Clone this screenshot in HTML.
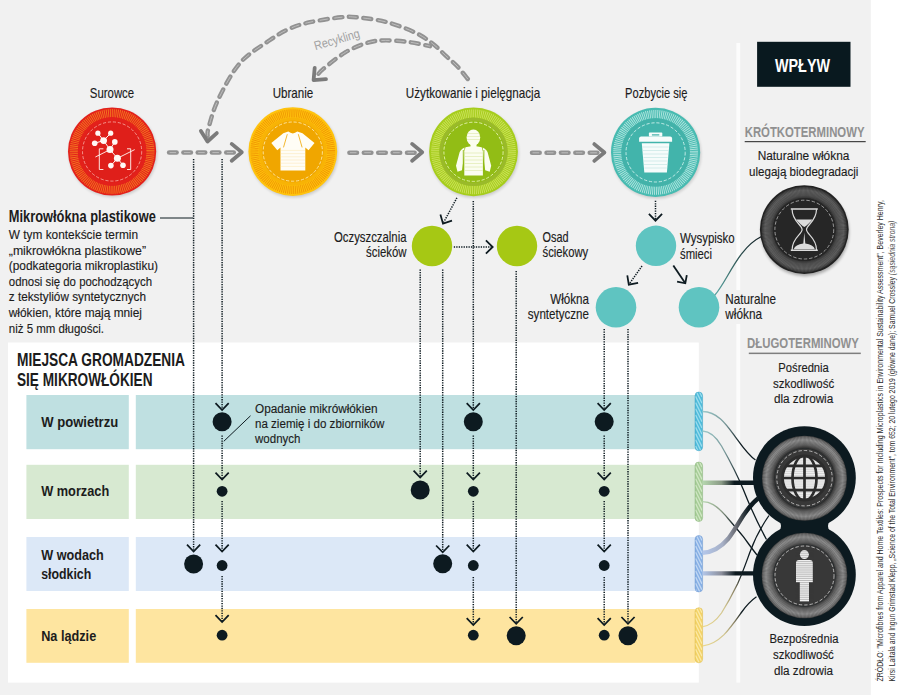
<!DOCTYPE html>
<html><head><meta charset="utf-8"><title>Mikrowłókna</title>
<style>
html,body{margin:0;padding:0;background:#f0f0f0;}
body{width:900px;height:695px;overflow:hidden;font-family:"Liberation Sans",sans-serif;}
svg{display:block;}
svg text{font-family:"Liberation Sans",sans-serif;}
</style></head><body>
<svg width="900" height="695" viewBox="0 0 900 695">
<defs>
<filter id="blur2" x="-20%" y="-20%" width="140%" height="140%"><feGaussianBlur stdDeviation="1.8"/></filter>
</defs>
<rect x="0" y="0" width="900" height="695" fill="#f1f1f1"/>
<rect x="870.8" y="0" width="29.2" height="695" fill="#ffffff"/>
<rect x="8" y="342.5" width="690.8" height="340.1" fill="#ffffff"/>
<rect x="736.4" y="43" width="3.8" height="247" fill="#fcfcfc"/>
<rect x="736.4" y="324" width="3.8" height="358.6" fill="#fcfcfc"/>
<rect x="26.4" y="395" width="102.4" height="54.2" fill="#bfe0e1"/>
<rect x="135.8" y="395" width="559.5" height="54.2" fill="#bfe0e1"/>
<rect x="26.4" y="464.8" width="102.4" height="54.2" fill="#d7e9d1"/>
<rect x="135.8" y="464.8" width="559.5" height="54.2" fill="#d7e9d1"/>
<rect x="26.4" y="537" width="102.4" height="54.0" fill="#dce8f7"/>
<rect x="135.8" y="537" width="559.5" height="54.0" fill="#dce8f7"/>
<rect x="26.4" y="609" width="102.4" height="53.8" fill="#fee5a0"/>
<rect x="135.8" y="609" width="559.5" height="53.8" fill="#fee5a0"/>
<text x="41.2" y="426.8" font-size="14.6" font-weight="bold" fill="#1c1c1c" text-anchor="start" textLength="77" lengthAdjust="spacingAndGlyphs" >W powietrzu</text>
<text x="41.2" y="496.3" font-size="14.6" font-weight="bold" fill="#1c1c1c" text-anchor="start" textLength="68" lengthAdjust="spacingAndGlyphs" >W morzach</text>
<text x="41.2" y="559.8" font-size="14.6" font-weight="bold" fill="#1c1c1c" text-anchor="start" textLength="62.5" lengthAdjust="spacingAndGlyphs" >W wodach</text>
<text x="41.2" y="579" font-size="14.6" font-weight="bold" fill="#1c1c1c" text-anchor="start" textLength="50" lengthAdjust="spacingAndGlyphs" >słodkich</text>
<text x="41.2" y="640.8" font-size="14.6" font-weight="bold" fill="#1c1c1c" text-anchor="start" textLength="55" lengthAdjust="spacingAndGlyphs" >Na lądzie</text>
<text x="17" y="366.1" font-size="17.6" font-weight="bold" fill="#1c1c1c" text-anchor="start" textLength="168" lengthAdjust="spacingAndGlyphs" >MIEJSCA GROMADZENIA</text>
<text x="17" y="386.3" font-size="17.6" font-weight="bold" fill="#1c1c1c" text-anchor="start" textLength="135.5" lengthAdjust="spacingAndGlyphs" >SIĘ MIKROWŁÓKIEN</text>
<text x="8.8" y="222.3" font-size="15.6" font-weight="bold" fill="#1c1c1c" text-anchor="start" textLength="147" lengthAdjust="spacingAndGlyphs" >Mikrowłókna plastikowe</text>
<line x1="160" y1="218" x2="193" y2="218" stroke="#0d1a20" stroke-width="1"/>
<text x="8.8" y="239.2" font-size="13.7" font-weight="normal" fill="#1c1c1c" text-anchor="start" textLength="129.2" lengthAdjust="spacingAndGlyphs"  stroke="#1c1c1c" stroke-width="0.15">W tym kontekście termin</text>
<text x="8.8" y="254.8" font-size="13.7" font-weight="normal" fill="#1c1c1c" text-anchor="start" textLength="137.2" lengthAdjust="spacingAndGlyphs"  stroke="#1c1c1c" stroke-width="0.15">„mikrowłókna plastikowe”</text>
<text x="8.8" y="270.3" font-size="13.7" font-weight="normal" fill="#1c1c1c" text-anchor="start" textLength="149.2" lengthAdjust="spacingAndGlyphs"  stroke="#1c1c1c" stroke-width="0.15">(podkategoria mikroplastiku)</text>
<text x="8.8" y="285.9" font-size="13.7" font-weight="normal" fill="#1c1c1c" text-anchor="start" textLength="143.2" lengthAdjust="spacingAndGlyphs"  stroke="#1c1c1c" stroke-width="0.15">odnosi się do pochodzących</text>
<text x="8.8" y="301.4" font-size="13.7" font-weight="normal" fill="#1c1c1c" text-anchor="start" textLength="137.2" lengthAdjust="spacingAndGlyphs"  stroke="#1c1c1c" stroke-width="0.15">z tekstyliów syntetycznych</text>
<text x="8.8" y="316.9" font-size="13.7" font-weight="normal" fill="#1c1c1c" text-anchor="start" textLength="133.2" lengthAdjust="spacingAndGlyphs"  stroke="#1c1c1c" stroke-width="0.15">włókien, które mają mniej</text>
<text x="8.8" y="332.5" font-size="13.7" font-weight="normal" fill="#1c1c1c" text-anchor="start" textLength="95.2" lengthAdjust="spacingAndGlyphs"  stroke="#1c1c1c" stroke-width="0.15">niż 5 mm długości.</text>
<line x1="193.6" y1="159" x2="193.6" y2="551.0" stroke="#0d1a20" stroke-width="1.5" stroke-dasharray="1.3 1.15"/>
<polyline points="200.2,544.7 193.6,551.5 187.0,544.7" fill="none" stroke="#0d1a20" stroke-width="1.75"/>
<circle cx="193.6" cy="564" r="9.5" fill="#0d1a20"/>
<line x1="222.1" y1="159" x2="222.1" y2="409.5" stroke="#0d1a20" stroke-width="1.5" stroke-dasharray="1.3 1.15"/>
<polyline points="228.7,403.2 222.1,410.0 215.5,403.2" fill="none" stroke="#0d1a20" stroke-width="1.75"/>
<circle cx="222.1" cy="421.8" r="9.5" fill="#0d1a20"/>
<line x1="222.1" y1="435.5" x2="222.1" y2="479.0" stroke="#0d1a20" stroke-width="1.5" stroke-dasharray="1.3 1.15"/>
<polyline points="228.7,472.7 222.1,479.5 215.5,472.7" fill="none" stroke="#0d1a20" stroke-width="1.75"/>
<circle cx="222.1" cy="491.3" r="5.4" fill="#0d1a20"/>
<line x1="222.1" y1="501" x2="222.1" y2="551.0" stroke="#0d1a20" stroke-width="1.5" stroke-dasharray="1.3 1.15"/>
<polyline points="228.7,544.7 222.1,551.5 215.5,544.7" fill="none" stroke="#0d1a20" stroke-width="1.75"/>
<circle cx="222.1" cy="565.5" r="5.4" fill="#0d1a20"/>
<line x1="222.1" y1="576" x2="222.1" y2="621.5" stroke="#0d1a20" stroke-width="1.5" stroke-dasharray="1.3 1.15"/>
<polyline points="228.7,615.2 222.1,622.0 215.5,615.2" fill="none" stroke="#0d1a20" stroke-width="1.75"/>
<circle cx="222.1" cy="635.2" r="5.4" fill="#0d1a20"/>
<line x1="420.2" y1="269.5" x2="420.2" y2="477.0" stroke="#0d1a20" stroke-width="1.5" stroke-dasharray="1.3 1.15"/>
<polyline points="426.8,470.7 420.2,477.5 413.6,470.7" fill="none" stroke="#0d1a20" stroke-width="1.75"/>
<circle cx="420.2" cy="490" r="9.5" fill="#0d1a20"/>
<line x1="442.7" y1="269.5" x2="442.7" y2="551.8" stroke="#0d1a20" stroke-width="1.5" stroke-dasharray="1.3 1.15"/>
<polyline points="449.3,545.5 442.7,552.3 436.1,545.5" fill="none" stroke="#0d1a20" stroke-width="1.75"/>
<circle cx="442.7" cy="563.8" r="9.5" fill="#0d1a20"/>
<line x1="473.3" y1="201" x2="473.3" y2="409.5" stroke="#0d1a20" stroke-width="1.5" stroke-dasharray="1.3 1.15"/>
<polyline points="479.9,403.2 473.3,410.0 466.7,403.2" fill="none" stroke="#0d1a20" stroke-width="1.75"/>
<circle cx="473.3" cy="421.8" r="9.5" fill="#0d1a20"/>
<line x1="473.3" y1="435.5" x2="473.3" y2="479.0" stroke="#0d1a20" stroke-width="1.5" stroke-dasharray="1.3 1.15"/>
<polyline points="479.9,472.7 473.3,479.5 466.7,472.7" fill="none" stroke="#0d1a20" stroke-width="1.75"/>
<circle cx="473.3" cy="491.3" r="5.4" fill="#0d1a20"/>
<line x1="473.3" y1="501" x2="473.3" y2="551.0" stroke="#0d1a20" stroke-width="1.5" stroke-dasharray="1.3 1.15"/>
<polyline points="479.9,544.7 473.3,551.5 466.7,544.7" fill="none" stroke="#0d1a20" stroke-width="1.75"/>
<circle cx="473.3" cy="565.5" r="5.4" fill="#0d1a20"/>
<line x1="473.3" y1="577" x2="473.3" y2="624.5" stroke="#0d1a20" stroke-width="1.5" stroke-dasharray="1.3 1.15"/>
<polyline points="479.9,618.2 473.3,625.0 466.7,618.2" fill="none" stroke="#0d1a20" stroke-width="1.75"/>
<circle cx="473.3" cy="635.2" r="5.4" fill="#0d1a20"/>
<line x1="516.2" y1="271" x2="516.2" y2="623.3" stroke="#0d1a20" stroke-width="1.5" stroke-dasharray="1.3 1.15"/>
<polyline points="522.8,617.0 516.2,623.8 509.6,617.0" fill="none" stroke="#0d1a20" stroke-width="1.75"/>
<circle cx="516.2" cy="635.8" r="9.5" fill="#0d1a20"/>
<line x1="604.2" y1="329" x2="604.2" y2="409.5" stroke="#0d1a20" stroke-width="1.5" stroke-dasharray="1.3 1.15"/>
<polyline points="610.8,403.2 604.2,410.0 597.6,403.2" fill="none" stroke="#0d1a20" stroke-width="1.75"/>
<circle cx="604.2" cy="421.8" r="9.5" fill="#0d1a20"/>
<line x1="604.2" y1="435.5" x2="604.2" y2="479.0" stroke="#0d1a20" stroke-width="1.5" stroke-dasharray="1.3 1.15"/>
<polyline points="610.8,472.7 604.2,479.5 597.6,472.7" fill="none" stroke="#0d1a20" stroke-width="1.75"/>
<circle cx="604.2" cy="491.3" r="5.4" fill="#0d1a20"/>
<line x1="604.2" y1="501" x2="604.2" y2="551.0" stroke="#0d1a20" stroke-width="1.5" stroke-dasharray="1.3 1.15"/>
<polyline points="610.8,544.7 604.2,551.5 597.6,544.7" fill="none" stroke="#0d1a20" stroke-width="1.75"/>
<circle cx="604.2" cy="565.5" r="5.4" fill="#0d1a20"/>
<line x1="604.2" y1="577" x2="604.2" y2="624.5" stroke="#0d1a20" stroke-width="1.5" stroke-dasharray="1.3 1.15"/>
<polyline points="610.8,618.2 604.2,625.0 597.6,618.2" fill="none" stroke="#0d1a20" stroke-width="1.75"/>
<circle cx="604.2" cy="635.2" r="5.4" fill="#0d1a20"/>
<line x1="628" y1="329" x2="628" y2="623.3" stroke="#0d1a20" stroke-width="1.5" stroke-dasharray="1.3 1.15"/>
<polyline points="634.6,617.0 628.0,623.8 621.4,617.0" fill="none" stroke="#0d1a20" stroke-width="1.75"/>
<circle cx="628" cy="635.8" r="9.5" fill="#0d1a20"/>
<line x1="223.8" y1="441.3" x2="250.5" y2="415.8" stroke="#0d1a20" stroke-width="1"/>
<text x="255" y="412.5" font-size="13.7" font-weight="normal" fill="#1c1c1c" text-anchor="start" textLength="122.5" lengthAdjust="spacingAndGlyphs"  stroke="#1c1c1c" stroke-width="0.15">Opadanie mikrówłókien</text>
<text x="255" y="427.8" font-size="13.7" font-weight="normal" fill="#1c1c1c" text-anchor="start" textLength="129.3" lengthAdjust="spacingAndGlyphs"  stroke="#1c1c1c" stroke-width="0.15">na ziemię i do zbiorników</text>
<text x="255" y="443.3" font-size="13.7" font-weight="normal" fill="#1c1c1c" text-anchor="start" textLength="45.5" lengthAdjust="spacingAndGlyphs"  stroke="#1c1c1c" stroke-width="0.15">wodnych</text>
<circle cx="432" cy="246" r="20.2" fill="#a6c814"/>
<circle cx="517" cy="246" r="20.2" fill="#a6c814"/>
<circle cx="656" cy="245.8" r="20.2" fill="#5fc4c1"/>
<circle cx="616" cy="307.3" r="20.3" fill="#5fc4c1"/>
<circle cx="699" cy="307.3" r="20.3" fill="#5fc4c1"/>
<line x1="456.9" y1="197.8" x2="443.6" y2="222.5" stroke="#0d1a20" stroke-width="1.5" stroke-dasharray="1.3 1.15"/>
<polyline points="452.0,220.7 443.0,223.6 440.4,214.5" fill="none" stroke="#0d1a20" stroke-width="1.75"/>
<line x1="453.8" y1="247" x2="492" y2="247" stroke="#0d1a20" stroke-width="1.5" stroke-dasharray="1.3 1.15"/>
<polyline points="485.9,240.4 492.7,247.0 485.9,253.6" fill="none" stroke="#0d1a20" stroke-width="1.75"/>
<line x1="655.5" y1="200.7" x2="655.5" y2="220" stroke="#0d1a20" stroke-width="1.5" stroke-dasharray="1.3 1.15"/>
<polyline points="662.1,213.9 655.5,220.7 648.9,213.9" fill="none" stroke="#0d1a20" stroke-width="1.75"/>
<line x1="642" y1="266" x2="629.4" y2="283.8" stroke="#0d1a20" stroke-width="1.5" stroke-dasharray="1.3 1.15"/>
<polyline points="638.1,282.9 628.8,284.7 627.3,275.4" fill="none" stroke="#0d1a20" stroke-width="1.75"/>
<line x1="673.3" y1="265.5" x2="684.8" y2="282.5" stroke="#0d1a20" stroke-width="1.8"/>
<polyline points="686.8,275.1 685.3,283.3 677.1,281.6" fill="none" stroke="#0d1a20" stroke-width="1.8"/>
<text x="406.5" y="242.3" font-size="14.2" font-weight="normal" fill="#1c1c1c" text-anchor="end" textLength="72.5" lengthAdjust="spacingAndGlyphs"  stroke="#1c1c1c" stroke-width="0.15">Oczyszczalnia</text>
<text x="406.5" y="256.9" font-size="14.2" font-weight="normal" fill="#1c1c1c" text-anchor="end" textLength="40.5" lengthAdjust="spacingAndGlyphs"  stroke="#1c1c1c" stroke-width="0.15">ścieków</text>
<text x="542.5" y="242.3" font-size="14.2" font-weight="normal" fill="#1c1c1c" text-anchor="start" textLength="26" lengthAdjust="spacingAndGlyphs"  stroke="#1c1c1c" stroke-width="0.15">Osad</text>
<text x="542.5" y="256.9" font-size="14.2" font-weight="normal" fill="#1c1c1c" text-anchor="start" textLength="45.7" lengthAdjust="spacingAndGlyphs"  stroke="#1c1c1c" stroke-width="0.15">ściekowy</text>
<text x="680" y="243.3" font-size="14.2" font-weight="normal" fill="#1c1c1c" text-anchor="start" textLength="54.7" lengthAdjust="spacingAndGlyphs"  stroke="#1c1c1c" stroke-width="0.15">Wysypisko</text>
<text x="680" y="258.8" font-size="14.2" font-weight="normal" fill="#1c1c1c" text-anchor="start" textLength="32" lengthAdjust="spacingAndGlyphs"  stroke="#1c1c1c" stroke-width="0.15">śmieci</text>
<text x="589" y="303.8" font-size="14.2" font-weight="normal" fill="#1c1c1c" text-anchor="end" textLength="38.8" lengthAdjust="spacingAndGlyphs"  stroke="#1c1c1c" stroke-width="0.15">Włókna</text>
<text x="589" y="319.2" font-size="14.2" font-weight="normal" fill="#1c1c1c" text-anchor="end" textLength="61.2" lengthAdjust="spacingAndGlyphs"  stroke="#1c1c1c" stroke-width="0.15">syntetyczne</text>
<text x="725.3" y="303.8" font-size="14.2" font-weight="normal" fill="#1c1c1c" text-anchor="start" textLength="50.7" lengthAdjust="spacingAndGlyphs"  stroke="#1c1c1c" stroke-width="0.15">Naturalne</text>
<text x="725.3" y="319.2" font-size="14.2" font-weight="normal" fill="#1c1c1c" text-anchor="start" textLength="36.8" lengthAdjust="spacingAndGlyphs"  stroke="#1c1c1c" stroke-width="0.15">włókna</text>
<text x="112" y="97.7" font-size="14.2" font-weight="normal" fill="#1c1c1c" text-anchor="middle" textLength="44.3" lengthAdjust="spacingAndGlyphs"  stroke="#1c1c1c" stroke-width="0.15">Surowce</text>
<text x="293" y="97.7" font-size="14.2" font-weight="normal" fill="#1c1c1c" text-anchor="middle" textLength="40.6" lengthAdjust="spacingAndGlyphs"  stroke="#1c1c1c" stroke-width="0.15">Ubranie</text>
<text x="473" y="97.5" font-size="14.2" font-weight="normal" fill="#1c1c1c" text-anchor="middle" textLength="134.3" lengthAdjust="spacingAndGlyphs"  stroke="#1c1c1c" stroke-width="0.15">Użytkowanie i pielęgnacja</text>
<text x="656.3" y="97.6" font-size="14.2" font-weight="normal" fill="#1c1c1c" text-anchor="middle" textLength="62.4" lengthAdjust="spacingAndGlyphs"  stroke="#1c1c1c" stroke-width="0.15">Pozbycie się</text>
<circle cx="113.0" cy="153.1" r="44.1" fill="#000" opacity="0.16" filter="url(#blur2)"/>
<circle cx="112.1" cy="151.5" r="44.1" fill="#e3211b"/>
<circle cx="112.1" cy="151.5" r="38.30" fill="none" stroke="#f58220" stroke-opacity="0.85" stroke-width="8.20" stroke-dasharray="0.947 0.947"/>
<circle cx="112.1" cy="151.5" r="34.2" fill="#e3211b"/>
<circle cx="112.1" cy="151.5" r="31" fill="#df1f1a"/>
<circle cx="112.1" cy="151.5" r="29.6" fill="none" stroke="#ffc9bf" stroke-opacity="0.75" stroke-width="0.9" stroke-dasharray="3.2 1.8"/>
<circle cx="293.7" cy="153.2" r="44.4" fill="#000" opacity="0.16" filter="url(#blur2)"/>
<circle cx="292.8" cy="151.6" r="44.4" fill="#ffc30d"/>
<circle cx="292.8" cy="151.6" r="38.30" fill="none" stroke="#ee8f00" stroke-opacity="0.8" stroke-width="8.20" stroke-dasharray="0.947 0.947"/>
<circle cx="292.8" cy="151.6" r="34.2" fill="#f8b305"/>
<circle cx="292.8" cy="151.6" r="31" fill="#f0a600"/>
<circle cx="292.8" cy="151.6" r="29.6" fill="none" stroke="#fff0b8" stroke-opacity="0.9" stroke-width="0.9" stroke-dasharray="3.2 1.8"/>
<circle cx="474.4" cy="153.4" r="44.4" fill="#000" opacity="0.16" filter="url(#blur2)"/>
<circle cx="473.5" cy="151.8" r="44.4" fill="#a6cd1c"/>
<circle cx="473.5" cy="151.8" r="38.30" fill="none" stroke="#d4e66a" stroke-opacity="0.8" stroke-width="8.20" stroke-dasharray="0.947 0.947"/>
<circle cx="473.5" cy="151.8" r="34.2" fill="#9aba2a"/>
<circle cx="473.5" cy="151.8" r="31" fill="#92bd15"/>
<circle cx="473.5" cy="151.8" r="29.6" fill="none" stroke="#f0f8c8" stroke-opacity="0.9" stroke-width="0.9" stroke-dasharray="3.2 1.8"/>
<circle cx="656.5" cy="154.0" r="44.6" fill="#000" opacity="0.16" filter="url(#blur2)"/>
<circle cx="655.6" cy="152.4" r="44.6" fill="#48bbb1"/>
<circle cx="655.6" cy="152.4" r="38.30" fill="none" stroke="#c2ebe6" stroke-opacity="0.85" stroke-width="8.20" stroke-dasharray="0.947 0.947"/>
<circle cx="655.6" cy="152.4" r="34.2" fill="#43b2a9"/>
<circle cx="655.6" cy="152.4" r="31" fill="#42b4ab"/>
<circle cx="655.6" cy="152.4" r="29.6" fill="none" stroke="#dcf5f2" stroke-opacity="0.9" stroke-width="0.9" stroke-dasharray="3.2 1.8"/>
<line x1="97.9" y1="133.2" x2="103.6" y2="140.6" stroke="#fff8f4" stroke-width="1"/>
<line x1="110.7" y1="133.2" x2="103.6" y2="140.6" stroke="#fff8f4" stroke-width="1"/>
<line x1="94.7" y1="143.2" x2="103.6" y2="140.6" stroke="#fff8f4" stroke-width="1"/>
<line x1="103.6" y1="140.6" x2="110" y2="149.6" stroke="#fff8f4" stroke-width="1"/>
<line x1="114.8" y1="141.9" x2="110" y2="149.6" stroke="#fff8f4" stroke-width="1"/>
<line x1="110" y1="149.6" x2="117.4" y2="158.3" stroke="#fff8f4" stroke-width="1"/>
<line x1="117.4" y1="158.3" x2="110.9" y2="165.6" stroke="#fff8f4" stroke-width="1"/>
<line x1="117.4" y1="158.3" x2="123" y2="165.2" stroke="#fff8f4" stroke-width="1"/>
<line x1="95.4" y1="157" x2="110" y2="149.6" stroke="#fff8f4" stroke-width="0.9"/>
<line x1="117.4" y1="158.3" x2="134.7" y2="149.6" stroke="#fff8f4" stroke-width="0.9"/>
<polyline points="103.4,148.8 99.3,148.8 99.3,169.5 103.4,169.5" fill="none" stroke="#fff8f4" stroke-width="0.9"/>
<polyline points="127,148.8 130.7,148.8 130.7,169.5 127,169.5" fill="none" stroke="#fff8f4" stroke-width="0.9"/>
<circle cx="97.9" cy="133.2" r="2.6" fill="#fff8f4"/>
<circle cx="110.7" cy="133.2" r="2.6" fill="#fff8f4"/>
<circle cx="103.6" cy="140.6" r="3.4" fill="#fff8f4"/>
<circle cx="94.7" cy="143.2" r="2.8" fill="#fff8f4"/>
<circle cx="114.8" cy="141.9" r="2.8" fill="#fff8f4"/>
<circle cx="110" cy="149.6" r="3.5" fill="#fff8f4"/>
<circle cx="117.4" cy="158.3" r="3.5" fill="#fff8f4"/>
<circle cx="110.9" cy="165.6" r="2.8" fill="#fff8f4"/>
<circle cx="123" cy="165.2" r="2.8" fill="#fff8f4"/>
<g transform="translate(-0.5,0)">
<path d="M283.8,133.2 L288.8,131.6 Q293.3,135.2 297.8,131.6 L303,133.2 L315,143 L309,150.2 L305.8,147.6 L305.8,170.4 L281,170.4 L281,147.6 L277.8,150.2 L271.8,143 Z" fill="#fffdf6"/>
<path d="M281.2,150.4H305.6M281.2,153.6H305.6M281.2,156.8H305.6M281.2,160H305.6M281.2,163.2H305.6M281.2,166.4H305.6" stroke="#fbe3a6" stroke-width="0.45" fill="none"/>
<path d="M287.8,134.2 L284,147.4 M298.8,134.2 L302.6,147.4" stroke="#f0a600" stroke-width="0.8" fill="none"/>
</g>
<g transform="translate(-0.3,0)">
<ellipse cx="473.7" cy="137.6" rx="6.8" ry="8.1" fill="#fbfdf0"/>
<rect x="470.8" y="143" width="6" height="4.8" fill="#fbfdf0"/>
<path d="M465.8,147.3 Q473.9,145.2 482,147.3 L483.2,151.5 L483.2,175.6 L464.6,175.6 L464.6,151.5 Z" fill="#fbfdf0"/>
<path d="M464.8,147.6 Q460.2,149.5 459.3,154.5 L456.3,165.8 L457.8,171.8 L462.3,170.2 L463.4,162.5 Z" fill="#fbfdf0"/>
<path d="M483,147.6 Q487.6,149.5 488.5,154.5 L491.5,165.8 L490,171.8 L485.5,170.2 L484.4,162.5 Z" fill="#fbfdf0"/>
<path d="M463.6,150 L463.6,175.6 M484.2,150 L484.2,175.6" stroke="#8fb914" stroke-width="0.9" fill="none"/>
<path d="M465,153H483M465,156.5H483M465,160H483M465,163.5H483M465,167H483M465,170.5H483M467.6,133.5H479.8M467,136.5H480.4M467.2,139.5H480.2" stroke="#cfe08a" stroke-width="0.45" fill="none"/>
</g>
<g transform="translate(-0.4,0)">
<rect x="649.3" y="132.6" width="13.4" height="4" rx="0.8" fill="#f6fcfb"/>
<rect x="652.3" y="134.3" width="7.4" height="1.2" fill="#3aaea6"/>
<path d="M639.5,138.5 Q639.5,136.6 641.5,136.6 L670.5,136.6 Q672.5,136.6 672.5,138.5 L672.5,141.8 L639.5,141.8 Z" fill="#f6fcfb"/>
<path d="M642.2,143.3 L669.8,143.3 L667.3,172.6 L644.7,172.6 Z" fill="#f6fcfb"/>
<path d="M643,147H669M643.3,150.5H668.8M643.6,154H668.4M643.9,157.5H668.1M644.2,161H667.8M644.5,164.5H667.5M644.8,168H667.2" stroke="#a9dcd7" stroke-width="0.45" fill="none"/>
</g>
<line x1="169.1" y1="152.6" x2="176.6" y2="152.6" stroke="#929292" stroke-width="4.5" stroke-linecap="round"/>
<line x1="169.6" y1="152.6" x2="176.1" y2="152.6" stroke="#c2c2c2" stroke-width="0.9"/>
<line x1="183.4" y1="152.6" x2="190.9" y2="152.6" stroke="#929292" stroke-width="4.5" stroke-linecap="round"/>
<line x1="183.9" y1="152.6" x2="190.4" y2="152.6" stroke="#c2c2c2" stroke-width="0.9"/>
<line x1="197.7" y1="152.6" x2="205.2" y2="152.6" stroke="#929292" stroke-width="4.5" stroke-linecap="round"/>
<line x1="198.2" y1="152.6" x2="204.7" y2="152.6" stroke="#c2c2c2" stroke-width="0.9"/>
<line x1="211.9" y1="152.6" x2="219.4" y2="152.6" stroke="#929292" stroke-width="4.5" stroke-linecap="round"/>
<line x1="212.4" y1="152.6" x2="218.9" y2="152.6" stroke="#c2c2c2" stroke-width="0.9"/>
<line x1="226.2" y1="152.6" x2="233.8" y2="152.6" stroke="#929292" stroke-width="4.5" stroke-linecap="round"/>
<line x1="226.8" y1="152.6" x2="233.2" y2="152.6" stroke="#c2c2c2" stroke-width="0.9"/>
<polyline points="231.7,143.9 241.8,152.3 231.7,160.7" fill="none" stroke="#7b7b7b" stroke-width="3.8" stroke-linecap="round" stroke-linejoin="round"/>
<line x1="349.4" y1="152.7" x2="357.0" y2="152.7" stroke="#929292" stroke-width="4.5" stroke-linecap="round"/>
<line x1="349.9" y1="152.7" x2="356.5" y2="152.7" stroke="#c2c2c2" stroke-width="0.9"/>
<line x1="363.8" y1="152.7" x2="371.4" y2="152.7" stroke="#929292" stroke-width="4.5" stroke-linecap="round"/>
<line x1="364.3" y1="152.7" x2="370.9" y2="152.7" stroke="#c2c2c2" stroke-width="0.9"/>
<line x1="378.2" y1="152.7" x2="385.8" y2="152.7" stroke="#929292" stroke-width="4.5" stroke-linecap="round"/>
<line x1="378.7" y1="152.7" x2="385.3" y2="152.7" stroke="#c2c2c2" stroke-width="0.9"/>
<line x1="392.6" y1="152.7" x2="400.2" y2="152.7" stroke="#929292" stroke-width="4.5" stroke-linecap="round"/>
<line x1="393.1" y1="152.7" x2="399.7" y2="152.7" stroke="#c2c2c2" stroke-width="0.9"/>
<line x1="407.0" y1="152.7" x2="414.6" y2="152.7" stroke="#929292" stroke-width="4.5" stroke-linecap="round"/>
<line x1="407.5" y1="152.7" x2="414.1" y2="152.7" stroke="#c2c2c2" stroke-width="0.9"/>
<polyline points="412.1,143.9 422.2,152.3 412.1,160.7" fill="none" stroke="#7b7b7b" stroke-width="3.8" stroke-linecap="round" stroke-linejoin="round"/>
<line x1="532.0" y1="152.8" x2="539.7" y2="152.8" stroke="#929292" stroke-width="4.5" stroke-linecap="round"/>
<line x1="532.5" y1="152.8" x2="539.2" y2="152.8" stroke="#c2c2c2" stroke-width="0.9"/>
<line x1="546.5" y1="152.8" x2="554.1" y2="152.8" stroke="#929292" stroke-width="4.5" stroke-linecap="round"/>
<line x1="547.0" y1="152.8" x2="553.6" y2="152.8" stroke="#c2c2c2" stroke-width="0.9"/>
<line x1="560.9" y1="152.8" x2="568.5" y2="152.8" stroke="#929292" stroke-width="4.5" stroke-linecap="round"/>
<line x1="561.4" y1="152.8" x2="568.0" y2="152.8" stroke="#c2c2c2" stroke-width="0.9"/>
<line x1="575.3" y1="152.8" x2="582.9" y2="152.8" stroke="#929292" stroke-width="4.5" stroke-linecap="round"/>
<line x1="575.8" y1="152.8" x2="582.4" y2="152.8" stroke="#c2c2c2" stroke-width="0.9"/>
<line x1="589.7" y1="152.8" x2="597.4" y2="152.8" stroke="#929292" stroke-width="4.5" stroke-linecap="round"/>
<line x1="590.2" y1="152.8" x2="596.9" y2="152.8" stroke="#c2c2c2" stroke-width="0.9"/>
<polyline points="594.3,144.1 604.4,152.5 594.3,160.9" fill="none" stroke="#7b7b7b" stroke-width="3.8" stroke-linecap="round" stroke-linejoin="round"/>
<path d="M467.8,79 C466.0,76.8 460.7,69.9 457,66 C453.3,62.1 449.7,59.4 445.6,55.6 C441.5,51.8 437.4,47.2 432.2,43.3 C427.0,39.4 422.2,35.8 414.4,32.2 C406.6,28.6 395.2,24.3 385.6,21.8 C376.0,19.3 364.1,18.1 356.7,17.3 C349.3,16.6 348.8,16.5 341,17.3 C333.2,18.1 318.5,20.3 310,22.2 C301.5,24.1 296.7,25.5 290,28.5 C283.3,31.5 278.3,34.2 270,40 C261.7,45.8 248.7,53.0 240,63 C231.3,73.0 223.2,89.2 218,100 C212.8,110.8 210.2,122.0 208.5,128 C206.8,134.0 207.8,134.7 207.6,136" fill="none" stroke="#929292" stroke-width="4.4" stroke-linecap="round" stroke-dasharray="8 6.6" stroke-dashoffset="0"/>
<path d="M467.8,79 C466.0,76.8 460.7,69.9 457,66 C453.3,62.1 449.7,59.4 445.6,55.6 C441.5,51.8 437.4,47.2 432.2,43.3 C427.0,39.4 422.2,35.8 414.4,32.2 C406.6,28.6 395.2,24.3 385.6,21.8 C376.0,19.3 364.1,18.1 356.7,17.3 C349.3,16.6 348.8,16.5 341,17.3 C333.2,18.1 318.5,20.3 310,22.2 C301.5,24.1 296.7,25.5 290,28.5 C283.3,31.5 278.3,34.2 270,40 C261.7,45.8 248.7,53.0 240,63 C231.3,73.0 223.2,89.2 218,100 C212.8,110.8 210.2,122.0 208.5,128 C206.8,134.0 207.8,134.7 207.6,136" fill="none" stroke="#c2c2c2" stroke-width="0.9" stroke-dasharray="8 6.6" stroke-dashoffset="0"/>
<polyline points="216.8,133.1 207.5,141.5 200.9,130.9" fill="none" stroke="#7b7b7b" stroke-width="3.8" stroke-linecap="round" stroke-linejoin="round"/>
<path d="M430,46.2 C426.7,45.5 417.4,43.2 410,42.2 C402.6,41.2 392.6,40.3 385.6,40.4 C378.6,40.5 374.5,40.7 367.8,42.7 C361.1,44.7 353.0,47.8 345.6,52.2 C338.2,56.6 328.2,64.9 323.3,68.9 C318.4,73.0 317.6,75.2 316.5,76.5" fill="none" stroke="#929292" stroke-width="4.4" stroke-linecap="round" stroke-dasharray="8 6.6" stroke-dashoffset="3"/>
<path d="M430,46.2 C426.7,45.5 417.4,43.2 410,42.2 C402.6,41.2 392.6,40.3 385.6,40.4 C378.6,40.5 374.5,40.7 367.8,42.7 C361.1,44.7 353.0,47.8 345.6,52.2 C338.2,56.6 328.2,64.9 323.3,68.9 C318.4,73.0 317.6,75.2 316.5,76.5" fill="none" stroke="#c2c2c2" stroke-width="0.9" stroke-dasharray="8 6.6" stroke-dashoffset="3"/>
<polyline points="326.0,79.1 313.6,80.2 314.7,67.8" fill="none" stroke="#7b7b7b" stroke-width="3.8" stroke-linecap="round" stroke-linejoin="round"/>
<text transform="translate(315.5,50.3) rotate(-16.3)" font-size="12.5" fill="#a2a2a2" textLength="47" lengthAdjust="spacingAndGlyphs">Recykling</text>
<clipPath id="thc392"><rect x="695" y="392" width="7.6" height="58.8" rx="3.8"/></clipPath>
<rect x="695" y="392" width="7.6" height="58.8" rx="3.8" fill="#4fbbd9"/>
<path d="M695.6,384.0 L702,397.0 M695.6,390.2 L702,403.2 M695.6,396.4 L702,409.4 M695.6,402.6 L702,415.6 M695.6,408.8 L702,421.8 M695.6,415.0 L702,428.0 M695.6,421.2 L702,434.2 M695.6,427.4 L702,440.4 M695.6,433.6 L702,446.6 M695.6,439.8 L702,452.8 M695.6,446.0 L702,459.0" stroke="#9adcee" stroke-width="1.3" fill="none" clip-path="url(#thc392)"/>
<rect x="695" y="392" width="7.6" height="58.8" rx="3.8" fill="none" stroke="#3a9fc2" stroke-opacity="0.55" stroke-width="0.8"/>
<clipPath id="thc462"><rect x="695" y="462" width="7.6" height="59.5" rx="3.8"/></clipPath>
<rect x="695" y="462" width="7.6" height="59.5" rx="3.8" fill="#a5cc96"/>
<path d="M695.6,454.0 L702,467.0 M695.6,460.2 L702,473.2 M695.6,466.4 L702,479.4 M695.6,472.6 L702,485.6 M695.6,478.8 L702,491.8 M695.6,485.0 L702,498.0 M695.6,491.2 L702,504.2 M695.6,497.4 L702,510.4 M695.6,503.6 L702,516.6 M695.6,509.8 L702,522.8 M695.6,516.0 L702,529.0" stroke="#cfe6c3" stroke-width="1.3" fill="none" clip-path="url(#thc462)"/>
<rect x="695" y="462" width="7.6" height="59.5" rx="3.8" fill="none" stroke="#86b278" stroke-opacity="0.55" stroke-width="0.8"/>
<clipPath id="thc535"><rect x="695" y="535.5" width="7.6" height="56.5" rx="3.8"/></clipPath>
<rect x="695" y="535.5" width="7.6" height="56.5" rx="3.8" fill="#86afe4"/>
<path d="M695.6,527.5 L702,540.5 M695.6,533.7 L702,546.7 M695.6,539.9 L702,552.9 M695.6,546.1 L702,559.1 M695.6,552.3 L702,565.3 M695.6,558.5 L702,571.5 M695.6,564.7 L702,577.7 M695.6,570.9 L702,583.9 M695.6,577.1 L702,590.1 M695.6,583.3 L702,596.3 M695.6,589.5 L702,602.5" stroke="#bfd6f3" stroke-width="1.3" fill="none" clip-path="url(#thc535)"/>
<rect x="695" y="535.5" width="7.6" height="56.5" rx="3.8" fill="none" stroke="#6a93cc" stroke-opacity="0.55" stroke-width="0.8"/>
<clipPath id="thc607"><rect x="695" y="607.7" width="7.6" height="55.1" rx="3.8"/></clipPath>
<rect x="695" y="607.7" width="7.6" height="55.1" rx="3.8" fill="#f3d266"/>
<path d="M695.6,599.7 L702,612.7 M695.6,605.9 L702,618.9 M695.6,612.1 L702,625.1 M695.6,618.3 L702,631.3 M695.6,624.5 L702,637.5 M695.6,630.7 L702,643.7 M695.6,636.9 L702,649.9 M695.6,643.1 L702,656.1 M695.6,649.3 L702,662.3 M695.6,655.5 L702,668.5 M695.6,661.7 L702,674.7" stroke="#fbe9a6" stroke-width="1.3" fill="none" clip-path="url(#thc607)"/>
<rect x="695" y="607.7" width="7.6" height="55.1" rx="3.8" fill="none" stroke="#d9b748" stroke-opacity="0.55" stroke-width="0.8"/>
<defs><linearGradient id="gA" gradientUnits="userSpaceOnUse" x1="702" y1="0" x2="756" y2="0"><stop offset="0" stop-color="#9ccbcc"/><stop offset="0.42" stop-color="#7a9a9b"/><stop offset="0.72" stop-color="#0d1a20"/></linearGradient><linearGradient id="gB" gradientUnits="userSpaceOnUse" x1="702" y1="0" x2="756" y2="0"><stop offset="0" stop-color="#b7d9b0"/><stop offset="0.36" stop-color="#8a9a86"/><stop offset="0.6" stop-color="#0d1a20"/></linearGradient><linearGradient id="gC" gradientUnits="userSpaceOnUse" x1="702" y1="0" x2="756" y2="0"><stop offset="0" stop-color="#b4c8ec"/><stop offset="0.36" stop-color="#8c8f9c"/><stop offset="0.62" stop-color="#0d1a20"/></linearGradient><linearGradient id="gC2" gradientUnits="userSpaceOnUse" x1="702" y1="0" x2="756" y2="0"><stop offset="0" stop-color="#b4c8ec"/><stop offset="0.38" stop-color="#a7b0c6"/><stop offset="0.62" stop-color="#6c6e76"/><stop offset="0.86" stop-color="#0d1a20"/></linearGradient><linearGradient id="gD" gradientUnits="userSpaceOnUse" x1="702" y1="0" x2="756" y2="0"><stop offset="0" stop-color="#ecd98c"/><stop offset="0.42" stop-color="#d0c48f"/><stop offset="0.6" stop-color="#8a8264"/><stop offset="0.74" stop-color="#0d1a20"/></linearGradient><linearGradient id="gE" gradientUnits="userSpaceOnUse" x1="714" y1="296" x2="762" y2="236"><stop offset="0" stop-color="#5aa9a6"/><stop offset="0.5" stop-color="#36615f"/><stop offset="1" stop-color="#0d1a20"/></linearGradient></defs>
<path d="M702.5,411.5 C718,412 726,424 735.3,436.8 C742,446 748,455 755.5,460" fill="none" stroke="url(#gA)" stroke-width="1.3"/>
<path d="M702.5,431 C712,431.5 718,440 721.5,446 C730,461 737,474 743.3,489.6 C749,504 757,522 766.5,539.5" fill="none" stroke="url(#gA)" stroke-width="1.3"/>
<path d="M702.5,482.7 H754.5" fill="none" stroke="url(#gB)" stroke-width="4.4"/>
<path d="M702.5,501.6 C710,501.8 716,505 724.9,514.9 C731,522 738,530 743.3,536.7 C748,543 753,550 757,555" fill="none" stroke="url(#gB)" stroke-width="1.3"/>
<path d="M702.5,552.7 C714,552.5 722,546 728.4,538.5 C735,530 740,520 744.5,513.7 C749,507.5 753,502.5 758,498.6" fill="none" stroke="url(#gC2)" stroke-width="4.4"/>
<path d="M702.5,573.4 H754" fill="none" stroke="url(#gC)" stroke-width="4.4"/>
<path d="M703,626.6 C712,625 718,618 721.5,613 C729,601 735,589 737.6,583.7 C743,572 747,560 750.2,551.5 C754,541 761,527 769,515.5" fill="none" stroke="url(#gD)" stroke-width="1.3"/>
<path d="M703,645.8 C712,645 718,640.5 723.8,634.9 C730,628.5 736,620 741,613 C746,606 751,600.5 756.5,596.8" fill="none" stroke="url(#gD)" stroke-width="1.3"/>
<path d="M714.7,295.3 C728,280 738,248 761.5,236.5" fill="none" stroke="url(#gE)" stroke-width="1.3"/>
<circle cx="804.4" cy="477.7" r="51.4" fill="#0c1a20"/>
<circle cx="804.4" cy="574.6" r="51.4" fill="#0c1a20"/>
<path d="M779,520 Q783,526 779,532 L830,532 Q826,526 830,520 Z" fill="#0c1a20"/>
<defs><radialGradient id="tg1" gradientUnits="userSpaceOnUse" cx="804.5" cy="478.2" r="42.5"><stop offset="0.70" stop-color="#303030"/><stop offset="0.78" stop-color="#666"/><stop offset="0.90" stop-color="#959595"/><stop offset="0.97" stop-color="#707070"/><stop offset="1" stop-color="#454545"/></radialGradient><radialGradient id="tg2" gradientUnits="userSpaceOnUse" cx="804.5" cy="575.5" r="42.8"><stop offset="0.70" stop-color="#303030"/><stop offset="0.78" stop-color="#666"/><stop offset="0.90" stop-color="#959595"/><stop offset="0.97" stop-color="#707070"/><stop offset="1" stop-color="#454545"/></radialGradient><radialGradient id="tg3" gradientUnits="userSpaceOnUse" cx="804.3" cy="229.6" r="42.8"><stop offset="0.72" stop-color="#333"/><stop offset="0.80" stop-color="#555"/><stop offset="0.92" stop-color="#646464"/><stop offset="1" stop-color="#3a3a3a"/></radialGradient></defs>
<circle cx="804.5" cy="478.2" r="36.15" fill="none" stroke="url(#tg1)" stroke-width="12.7"/>
<circle cx="804.5" cy="478.2" r="36.15" fill="none" stroke="#000" stroke-opacity="0.22" stroke-width="12.7" stroke-dasharray="0.562 0.686"/>
<circle cx="804.5" cy="478.2" r="29.8" fill="#383838"/>
<circle cx="804.5" cy="478.2" r="27.7" fill="none" stroke="#d8d8d8" stroke-opacity="0.85" stroke-width="0.9" stroke-dasharray="3.4 2"/>
<circle cx="804.5" cy="575.5" r="36.9" fill="none" stroke="url(#tg2)" stroke-width="11.799999999999997"/>
<circle cx="804.5" cy="575.5" r="36.9" fill="none" stroke="#000" stroke-opacity="0.22" stroke-width="11.799999999999997" stroke-dasharray="0.564 0.689"/>
<circle cx="804.5" cy="575.5" r="31" fill="#383838"/>
<circle cx="804.5" cy="575.5" r="29.5" fill="none" stroke="#d8d8d8" stroke-opacity="0.85" stroke-width="0.9" stroke-dasharray="3.4 2"/>
<circle cx="805" cy="232" r="44.2" fill="#000" opacity="0.3" filter="url(#blur2)"/>
<circle cx="804.3" cy="229.6" r="44.4" fill="#222"/>
<circle cx="804.3" cy="229.6" r="37.05" fill="none" stroke="url(#tg3)" stroke-width="11.499999999999996"/>
<circle cx="804.3" cy="229.6" r="37.05" fill="none" stroke="#000" stroke-opacity="0.22" stroke-width="11.499999999999996" stroke-dasharray="0.563 0.688"/>
<circle cx="804.3" cy="229.6" r="31.3" fill="#262626"/>
<circle cx="804.3" cy="229.6" r="29.4" fill="none" stroke="#bdbdbd" stroke-opacity="0.85" stroke-width="0.9" stroke-dasharray="3.4 2"/>
<clipPath id="gclip"><circle cx="804.5" cy="478" r="22.6"/></clipPath>
<circle cx="804.5" cy="478" r="22.6" fill="#f0f0f0"/>
<path d="M781.9,456.4H827.1 M781.9,458.3H827.1 M781.9,460.2H827.1 M781.9,462.1H827.1 M781.9,464.0H827.1 M781.9,465.9H827.1 M781.9,467.8H827.1 M781.9,469.7H827.1 M781.9,471.6H827.1 M781.9,473.5H827.1 M781.9,475.4H827.1 M781.9,477.3H827.1 M781.9,479.2H827.1 M781.9,481.1H827.1 M781.9,483.0H827.1 M781.9,484.9H827.1 M781.9,486.8H827.1 M781.9,488.7H827.1 M781.9,490.6H827.1 M781.9,492.5H827.1 M781.9,494.4H827.1 M781.9,496.3H827.1 M781.9,498.2H827.1 M781.9,500.1H827.1" stroke="#3a3a3a" stroke-opacity="0.28" stroke-width="0.5" fill="none" clip-path="url(#gclip)"/>
<g clip-path="url(#gclip)" stroke="#2c2c2c" fill="none" stroke-width="2.7"><line x1="804.5" y1="455.4" x2="804.5" y2="500.6"/><line x1="781.9" y1="478" x2="827.1" y2="478"/><line x1="781.9" y1="465.8" x2="827.1" y2="465.8"/><line x1="781.9" y1="490.2" x2="827.1" y2="490.2"/><ellipse cx="804.5" cy="478" rx="12" ry="22.6"/></g>
<circle cx="804.5" cy="478" r="22.0" fill="none" stroke="#2c2c2c" stroke-width="2.8"/>
<circle cx="804.4" cy="554.6" r="4.5" fill="#f0f0f0"/>
<path d="M796.0,563.1 Q796.0,560.0 799.0,560.0 L809.8,560.0 Q812.8,560.0 812.8,563.1 L812.8,582.3000000000001 L809.0,582.3000000000001 L809.0,601.4 L799.8,601.4 L799.8,582.3000000000001 L796.0,582.3000000000001 Z" fill="#f0f0f0"/>
<path d="M795.4,551.1H813.4 M795.4,553.2H813.4 M795.4,555.3H813.4 M795.4,557.4H813.4 M795.4,559.5H813.4 M795.4,561.6H813.4 M795.4,563.7H813.4 M795.4,565.8H813.4 M795.4,567.9H813.4 M795.4,570.0H813.4 M795.4,572.1H813.4 M795.4,574.2H813.4 M795.4,576.3H813.4 M795.4,578.4H813.4 M795.4,580.5H813.4 M795.4,582.6H813.4 M795.4,584.7H813.4 M795.4,586.8H813.4 M795.4,588.9H813.4 M795.4,591.0H813.4 M795.4,593.1H813.4 M795.4,595.2H813.4 M795.4,597.3H813.4 M795.4,599.4H813.4 M795.4,601.5H813.4" stroke="#383838" stroke-opacity="0.55" stroke-width="0.55" fill="none"/>
<path d="M790.8,209.0H817.8M790.8,250.2H817.8" stroke="#dcdcdc" stroke-width="1.4" fill="none"/>
<path d="M792.0999999999999,209.29999999999998 C792.0999999999999,221.6 802.0999999999999,224.6 802.0999999999999,229.6 C802.0999999999999,234.6 792.0999999999999,237.6 792.0999999999999,249.9 M816.5,209.29999999999998 C816.5,221.6 806.5,224.6 806.5,229.6 C806.5,234.6 816.5,237.6 816.5,249.9" stroke="#dcdcdc" stroke-width="1.2" fill="none"/>
<path d="M796.0,219.6 L812.5999999999999,219.6 Q807.3,225.6 804.3,227.1 Q801.3,225.6 796.0,219.6 Z" fill="#dcdcdc"/>
<path d="M804.3,232.6 L805.3,243.6 Q813.3,244.6 814.9,249.2 L793.6999999999999,249.2 Q795.3,244.6 803.3,243.6 Z" fill="#dcdcdc"/>
<rect x="757.1" y="41.8" width="93.4" height="45" fill="#09191f"/>
<text x="802.5" y="71.7" font-size="18.5" font-weight="bold" fill="#ffffff" text-anchor="middle" textLength="55" lengthAdjust="spacingAndGlyphs" >WPŁYW</text>
<text x="804.6" y="136.7" font-size="14.2" font-weight="bold" fill="#909090" text-anchor="middle" textLength="119.8" lengthAdjust="spacingAndGlyphs" >KRÓTKOTERMINOWY</text>
<rect x="744.7" y="141.1" width="121" height="1.1" fill="#333"/>
<text x="803.5" y="160.1" font-size="13.7" font-weight="normal" fill="#1c1c1c" text-anchor="middle" textLength="91.7" lengthAdjust="spacingAndGlyphs"  stroke="#1c1c1c" stroke-width="0.15">Naturalne włókna</text>
<text x="803.7" y="175.6" font-size="13.7" font-weight="normal" fill="#1c1c1c" text-anchor="middle" textLength="109.4" lengthAdjust="spacingAndGlyphs"  stroke="#1c1c1c" stroke-width="0.15">ulegają biodegradacji</text>
<text x="803" y="348" font-size="14.2" font-weight="bold" fill="#909090" text-anchor="middle" textLength="111.8" lengthAdjust="spacingAndGlyphs" >DŁUGOTERMINOWY</text>
<rect x="748.8" y="352.6" width="112" height="1.5" fill="#7e7e7e"/>
<text x="803.6" y="371.5" font-size="13.7" font-weight="normal" fill="#1c1c1c" text-anchor="middle" textLength="50.5" lengthAdjust="spacingAndGlyphs"  stroke="#1c1c1c" stroke-width="0.15">Pośrednia</text>
<text x="803.6" y="387.6" font-size="13.7" font-weight="normal" fill="#1c1c1c" text-anchor="middle" textLength="61.2" lengthAdjust="spacingAndGlyphs"  stroke="#1c1c1c" stroke-width="0.15">szkodliwość</text>
<text x="803.6" y="402.9" font-size="13.7" font-weight="normal" fill="#1c1c1c" text-anchor="middle" textLength="59.3" lengthAdjust="spacingAndGlyphs"  stroke="#1c1c1c" stroke-width="0.15">dla zdrowia</text>
<text x="804" y="643" font-size="13.7" font-weight="normal" fill="#1c1c1c" text-anchor="middle" textLength="68.8" lengthAdjust="spacingAndGlyphs"  stroke="#1c1c1c" stroke-width="0.15">Bezpośrednia</text>
<text x="803.4" y="659.2" font-size="13.7" font-weight="normal" fill="#1c1c1c" text-anchor="middle" textLength="60.8" lengthAdjust="spacingAndGlyphs"  stroke="#1c1c1c" stroke-width="0.15">szkodliwość</text>
<text x="803.5" y="674.5" font-size="13.7" font-weight="normal" fill="#1c1c1c" text-anchor="middle" textLength="59" lengthAdjust="spacingAndGlyphs"  stroke="#1c1c1c" stroke-width="0.15">dla zdrowia</text>
<text transform="translate(883.4,681.6) rotate(-90)" font-size="9.3" fill="#2a2a2a" textLength="481.5" lengthAdjust="spacingAndGlyphs">ŹRÓDŁO: "Microfibres from Apparel and Home Textiles: Prospects for Including Microplastics in Environmental Sustainability Assessment", Beverley Henry,</text>
<text transform="translate(895,681.6) rotate(-90)" font-size="9.3" fill="#2a2a2a" textLength="461" lengthAdjust="spacingAndGlyphs">Kirsi Laitala and Ingun Grimstad Klepp, „Science of the Total Environment”, tom 652; 20 lutego 2019 (główne dane); Samuel Crossley <tspan font-style="italic" fill="#555">(sąsiednia strona)</tspan></text>
</svg>
</body></html>
